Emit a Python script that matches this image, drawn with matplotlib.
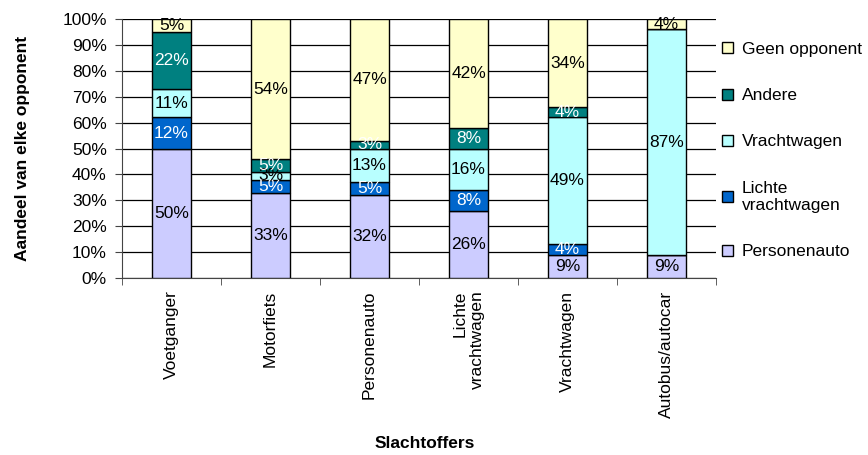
import numpy as np
import matplotlib.pyplot as plt

plt.rcParams['font.family'] = ['Liberation Sans', 'DejaVu Sans']

# slachtoffers (x-as) en aandeel per opponent in %
slachtoffers = ['Voetganger', 'Motorfiets', 'Personenauto', 'Lichte\nvrachtwagen',
                'Vrachtwagen', 'Autobus/autocar']
personenauto = [50, 33, 32, 26, 9, 9]
lichte_vrachtwagen = [12, 5, 5, 8, 4, 0]
vrachtwagen = [11, 3, 13, 16, 49, 87]
andere = [22, 5, 3, 8, 4, 0]
geen_opponent = [5, 54, 47, 42, 34, 4]

reeksen = [
    ('Personenauto', personenauto, '#CCCCFF', 'black'),
    ('Lichte\nvrachtwagen', lichte_vrachtwagen, '#0066CC', 'white'),
    ('Vrachtwagen', vrachtwagen, '#B8FFFF', 'black'),
    ('Andere', andere, '#008080', 'white'),
    ('Geen opponent', geen_opponent, '#FFFFCC', 'black'),
]

fig = plt.figure(figsize=(8.68, 4.55), dpi=100)
ax = fig.add_axes([0.1406, 0.389, 0.6843, 0.569])

x = np.arange(len(slachtoffers))
bottom = np.zeros(len(slachtoffers))
handles = []
for naam, waarden, kleur, tekstkleur in reeksen:
    waarden = np.array(waarden, dtype=float)
    bars = ax.bar(x, waarden, 0.4, bottom=bottom, color=kleur, edgecolor='black',
                  linewidth=1, label=naam, zorder=3)
    handles.append(bars)
    for xi, b, v in zip(x, bottom, waarden):
        if v > 0:
            ax.text(xi, b + v / 2, f'{v:.0f}%', ha='center', va='center',
                    fontsize=12.5, color=tekstkleur, zorder=4)
    bottom += waarden

ax.set_xlim(-0.5, 5.5)
ax.set_ylim(0, 100)
ax.set_yticks(np.arange(0, 101, 10))
ax.set_yticklabels([f'{v}%' for v in range(0, 101, 10)], fontsize=12.5)
ax.yaxis.grid(True, color='black', linewidth=0.9, zorder=0)
ax.set_axisbelow(True)

ax.set_xticks(x)
ax.set_xticklabels(slachtoffers, rotation=90, fontsize=12.5, va='top',
                   ha='center', multialignment='right')
ax.set_xticks(np.arange(-0.5, 6, 1), minor=True)
ax.tick_params(axis='x', which='major', length=0, pad=9)
ax.tick_params(axis='x', which='minor', length=5, color='#444444')
ax.tick_params(axis='y', length=5, color='#444444', pad=6)

for s in ['top', 'right']:
    ax.spines[s].set_visible(False)
ax.spines['left'].set_color('#444444')
ax.spines['bottom'].set_color('#444444')

ax.set_ylabel('Aandeel van elke opponent', fontsize=12.5, fontweight='bold')
ax.yaxis.set_label_coords(-0.155, 0.5)
ax.set_xlabel('Slachtoffers', fontsize=12.5, fontweight='bold')
ax.xaxis.set_label_coords(0.51, -0.61)

ax.legend(handles[::-1], [r[0] for r in reeksen[::-1]], loc='upper left',
          bbox_to_anchor=(1.005, 0.925), frameon=False, fontsize=12.5,
          handlelength=0.6, handleheight=0.6, handletextpad=0.5,
          labelspacing=1.8, borderaxespad=0.0, borderpad=0.2)

fig.savefig('out.png', dpi=100)
